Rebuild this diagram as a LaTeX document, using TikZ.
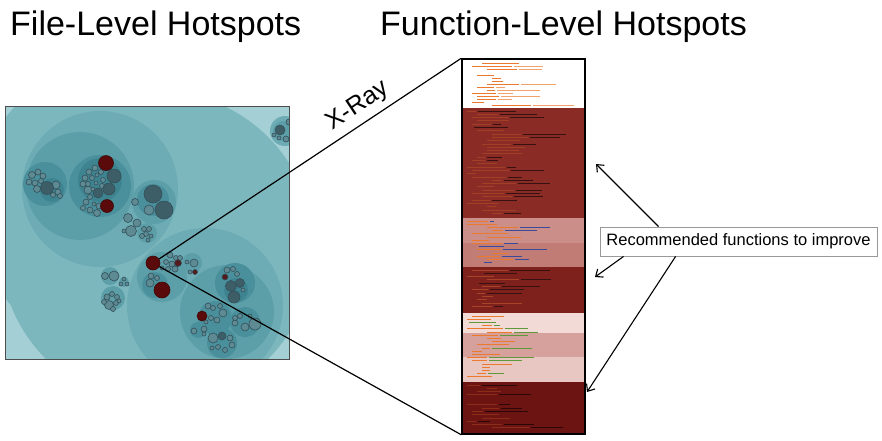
\documentclass[tikz,border=0pt]{standalone}
\usepackage{fontspec}
\setmainfont{Liberation Sans}
\usetikzlibrary{arrows.meta}

\definecolor{tealbg}{HTML}{A4D0D5}
\definecolor{tealroot}{HTML}{7DB7BE}
\definecolor{tealmid}{HTML}{6DACB4}
\definecolor{tealdeep}{HTML}{5D9FA9}
\definecolor{tealdark}{HTML}{4A909C}
\definecolor{tealcore}{HTML}{3E8490}
\definecolor{bubblegrey}{HTML}{5E8A93}
\definecolor{bubbledark}{HTML}{3D5D67}
\definecolor{bubbleline}{HTML}{33505A}
\definecolor{hotred}{HTML}{5A0A0A}
\definecolor{codeorange}{HTML}{EC7A2E}
\definecolor{codeblue}{HTML}{3A4A9A}
\definecolor{codegreen}{HTML}{5E9A3A}
\definecolor{banddark}{HTML}{8A2B25}
\definecolor{banddarker}{HTML}{7E211C}
\definecolor{banddeepest}{HTML}{6B1411}
\definecolor{bandpink}{HTML}{CC8E89}
\definecolor{bandrose}{HTML}{C27C76}
\definecolor{bandpale}{HTML}{F2DAD7}
\definecolor{bandmedium}{HTML}{D6A19C}
\definecolor{bandlight}{HTML}{E8C6C2}

% one band of tiny code lines: first y, second y, last y, colour a, colour b
\newcommand{\codeband}[5]{%
  \foreach \yy in {#1,#2,...,#3}{%
    \pgfmathsetmacro\cxa{467+5*random(0,5)}%
    \pgfmathsetmacro\cla{random(0,7)==0 ? 0 : 8+random(0,32)}%
    \pgfmathsetmacro\clb{random(0,2)==0 ? 0 : random(4,45)}%
    \pgfmathsetmacro\cxb{\cxa+\cla+2}%
    \draw[codeln,#4] (\cxa,\yy) -- ++(\cla,0);
    \draw[codeln,#5] (\cxb,\yy) -- ++(\clb,0);
  }}

\begin{document}
\begin{tikzpicture}[x=1pt,y=-1pt,
    title/.style={font=\fontsize{34}{38}\selectfont, anchor=base west, inner sep=0pt},
    bubble/.style={fill=bubblegrey, draw=bubbleline, line width=0.6pt},
    darkbubble/.style={fill=bubbledark, draw=bubbleline, line width=0.6pt},
    hot/.style={circle, fill=hotred, draw=hotred!70!black, line width=0.6pt, inner sep=0pt},
    codeln/.style={line width=0.9pt},
    zoomline/.style={line width=1.2pt},
    callout/.style={draw=black!40, fill=white, line width=0.8pt, minimum width=277pt,
                    minimum height=29pt, font=\fontsize{16.5}{18}\selectfont},
    pointer/.style={line width=1.1pt, -{Straight Barb[length=6pt,width=10pt]}}]

  \useasboundingbox (0,0) rectangle (882,440);

  % titles
  \node[title] (filetitle) at (10,35) {File-Level Hotspots};
  \node[title] (functitle) at (380,35) {Function-Level Hotspots};

  % file-level bubble map
  \begin{scope}
    \clip (5,106) rectangle (289,359);
    \fill[tealbg] (5,106) rectangle (289,359);
    \fill[tealroot] (120,208) circle (146);
    \fill[tealroot] (157,248) circle (157);
    % upper-left group
    \fill[tealmid] (100,189) circle (78);
    \fill[tealdeep] (80,186) circle (54);
    \fill[tealdark] (45,184) circle (22);
    \fill[tealcore] (52,190) circle (12);
    \fill[tealdark] (100,186) circle (31);
    \fill[tealcore] (100,180) circle (22);
    \fill[tealdeep] (154,202) circle (22);
    \fill[tealdark] (153,200) circle (16);
    \fill[tealdeep] (147,233) circle (10);
    \fill[tealmid] (285,131) circle (15);
    \fill[tealdeep] (283,131) circle (10);
    % lower-right group
    \fill[tealmid] (205,306) circle (78);
    \fill[tealdeep] (227,312) circle (47);
    \fill[tealdeep] (162,277) circle (25);
    \fill[tealdark] (155,285) circle (13);
    \fill[tealdeep] (192,263) circle (10);
    \fill[tealdark] (235,283) circle (20);
    \fill[tealcore] (236,290) circle (12);
    \fill[tealdark] (245,322) circle (15);
    \fill[tealdark] (215,318) circle (17);
    \fill[tealdark] (222,343) circle (15);
    \fill[tealdark] (198,330) circle (8);
    \fill[tealdeep] (110,276) circle (9);
    \fill[tealdeep] (113,298) circle (12);
    \fill[tealdeep] (124,282) circle (5);

    \foreach \x/\y/\r in {32/175/3.5, 38/172/3, 43/176/3, 29/182/3, 35/183/3, 41/181/2.5,
        37/189/3.5, 56/185/4, 58/192/3, 53/195/2.5, 60/196/2.5,
        88/190/4, 85/178/3, 89/172/3, 95/168/3, 92/178/2.5, 97/175/2, 101/172/2.5,
        103/180/2.5, 96/183/2, 88/184/2.5, 83/184/3, 93/189/2, 102/186/2.5,
        86/202/3, 90/197/2.5, 83/208/2.5, 90/210/3, 97/213/3.5, 99/206/3, 94/204/2,
        149/210/5, 135/202/3.5,
        128/218/4.5, 137/223/4, 131/231/5.5, 124/231/2, 144/229/2.5, 149/229/2.5,
        146/234/2.5, 151/236/2, 142/236/2.5, 148/240/2,
        289/122/3, 279/138/2, 286/139/3, 274/135/2,
        170/255/3, 176/258/2.5, 172/264/3, 166/262/2.5, 168/269/2.5, 175/269/3,
        162/268/2, 180/258/2.5, 150/283/4, 151/276/3, 157/278/2.5,
        194/263/4, 187/262/2, 190/272/2,
        227/270/3, 233/269/2.5, 237/274/2.5, 243/290/2,
        255/324/6, 245/327/4, 235/323/3, 235/318/2.5, 240/316/2.5, 250/316/2,
        223/313/4, 217/320/3, 208/306/3, 213/308/2.5, 220/306/2.5, 211/318/2.5, 206/322/2,
        213/338/5, 230/338/3, 232/345/3, 218/347/2.5, 225/350/2.5, 212/348/2,
        194/331/3, 204/329/3, 204/334/2,
        105/276/3.5, 114/276/5, 124/279/2, 121/284/2, 127/284/2,
        109/305/4.5, 107/297/3, 112/294/2.5, 117/297/2.5, 104/302/2.5, 116/303/2.5,
        113/309/2.5, 119/301/2}
      \draw[bubble] (\x,\y) circle (\r);

    \foreach \x/\y/\r in {47/188/6.5, 114/176/7, 109/189/6, 98/193/5, 153/194/9,
        164/210/9, 280/130/5, 231/286/5.5, 240/283/4.5, 234/297/6, 222/336/4}
      \draw[darkbubble] (\x,\y) circle (\r);

    \foreach \x/\y/\r in {178/263/3.5, 195/272/2.5, 225/277/3}
      \draw[darkbubble, fill=hotred!80!bubbledark] (\x,\y) circle (\r);

    \foreach \x/\y/\r in {106/163/7.5, 107/206/6.5, 162/290/8, 202/316/5}
      \draw[hot] (\x,\y) circle (\r);
  \end{scope}
  \draw[black!70, line width=0.8pt] (5,106) rectangle (289,359);
  \node[hot, minimum size=14pt] (hotdot) at (153,263) {};

  % function-level code view
  \fill[white] (462,59) rectangle (585,108);
  \fill[banddark] (462,108) rectangle (585,218);
  \fill[bandpink] (462,218) rectangle (585,243);
  \fill[bandrose] (462,243) rectangle (585,267);
  \fill[banddarker] (462,267) rectangle (585,313);
  \fill[bandpale] (462,313) rectangle (585,333);
  \fill[bandmedium] (462,333) rectangle (585,357);
  \fill[bandlight] (462,357) rectangle (585,382);
  \fill[banddeepest] (462,382) rectangle (585,434);

  \pgfmathsetseed{41}
  \codeband{63}{66}{105}{codeorange}{codeorange!70}
  \codeband{111}{114.3}{215}{banddark!75!codeorange}{banddark!40!black}
  \codeband{221}{224.2}{264}{codeorange}{codeblue}
  \codeband{270}{273.3}{310}{banddark!70!codeorange}{banddark!40!black}
  \codeband{316}{319.2}{379}{codeorange}{codegreen}
  \codeband{385}{388.3}{430}{banddeepest!75!codeorange}{banddeepest!40!black}

  \node[draw=black, line width=1.5pt, minimum width=123pt, minimum height=375pt,
        inner sep=0pt] (panel) at (523.5,246.5) {};

  % zoom connectors
  \draw[zoomline] (hotdot) -- (panel.north west)
    node[pos=0.69, above=2pt, sloped, font=\fontsize{25}{28}\selectfont] (xray) {X-Ray};
  \draw[zoomline] (hotdot) -- (panel.south west);

  % recommendation call-out
  \node[callout] (rec) at (738.5,241.5) {Recommended functions to improve};
  \coordinate (band1) at (596,164);
  \coordinate (band2) at (595,277);
  \coordinate (band3) at (587,392);
  \draw[pointer] ([xshift=59pt]rec.north west) -- (band1);
  \draw[pointer] ([xshift=24pt]rec.south west) -- (band2);
  \draw[pointer] ([xshift=76pt]rec.south west) -- (band3);
\end{tikzpicture}
\end{document}
